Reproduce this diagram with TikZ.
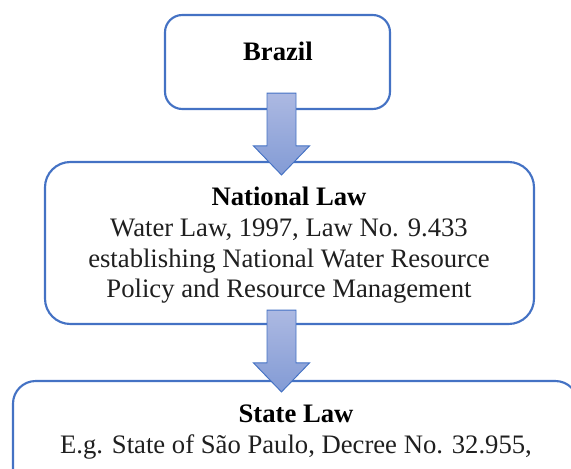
\documentclass[tikz,border=0pt]{standalone}
\usepackage{fontspec}
\setmainfont{Liberation Serif}
\usetikzlibrary{calc}
\definecolor{boxblue}{RGB}{68,114,196}
\definecolor{arrowtop}{RGB}{172,185,226}
\definecolor{arrowbot}{RGB}{131,155,213}

% block arrow from the top of its shaft (#1) to its tip (#2)
\newcommand{\blockarrow}[2]{%
  \shadedraw[flowarrow] let \p1=(#1), \p2=(#2) in
    (\x1-10.875pt,\y1) -- (\x1+10.875pt,\y1) -- (\x1+10.875pt,\y2+21.75pt)
    -- (\x1+21pt,\y2+21.75pt) -- (\x1,\y2) -- (\x1-21pt,\y2+21.75pt)
    -- (\x1-10.875pt,\y2+21.75pt) -- cycle;}

\begin{document}
\begin{tikzpicture}[x=0.75pt,y=-0.75pt,
  lawbox/.style={draw=boxblue,line width=1.6pt,fill=white,inner sep=0pt},
  flowarrow/.style={draw=boxblue,line width=0.7pt,top color=arrowtop,bottom color=arrowbot},
  headtext/.style={anchor=base,inner sep=0pt,font=\fontsize{20pt}{23.25pt}\selectfont\bfseries},
  bodytext/.style={anchor=base,inner sep=0pt,text=black!88,font=\fontsize{20pt}{23.25pt}\selectfont}]
\useasboundingbox (0,0) rectangle (571,468);
\clip (0,0) rectangle (571,468);

% boxes
\node[lawbox,rounded corners=13pt,minimum width=168.75pt,minimum height=70.5pt] (brazil) at (277.5,62) {};
\node[lawbox,rounded corners=19pt,minimum width=366.75pt,minimum height=121.5pt] (national) at (289.5,243) {};
\node[lawbox,rounded corners=17pt,minimum width=423.75pt,minimum height=104.25pt] (state) at (295.5,450.5) {};

% arrows between levels
\coordinate (a1s) at ($(brazil.south)+(4,-17)$);
\coordinate (a1e) at ($(a1s |- national.north)+(0,14)$);
\coordinate (a2s) at ($(a1s |- national.south)+(0,-15)$);
\coordinate (a2e) at ($(a2s |- state.north)+(0,12)$);
\blockarrow{a1s}{a1e}
\blockarrow{a2s}{a2e}

% texts
\node[headtext] (brazilT) at (278,60) {Brazil};
\node[headtext] (natT) at (289,205) {National Law};
\node[bodytext] (natL1) at (289,236) {Water Law, 1997, Law No. 9.433};
\node[bodytext] (natL2) at (289,267) {establishing National Water Resource};
\node[bodytext] (natL3) at (289,297) {Policy and Resource Management};
\node[headtext] (stateT) at (296,422) {State Law};
\node[bodytext] (stateL1) at (296,453) {E.g. State of São Paulo, Decree No. 32.955,};
\end{tikzpicture}
\end{document}
